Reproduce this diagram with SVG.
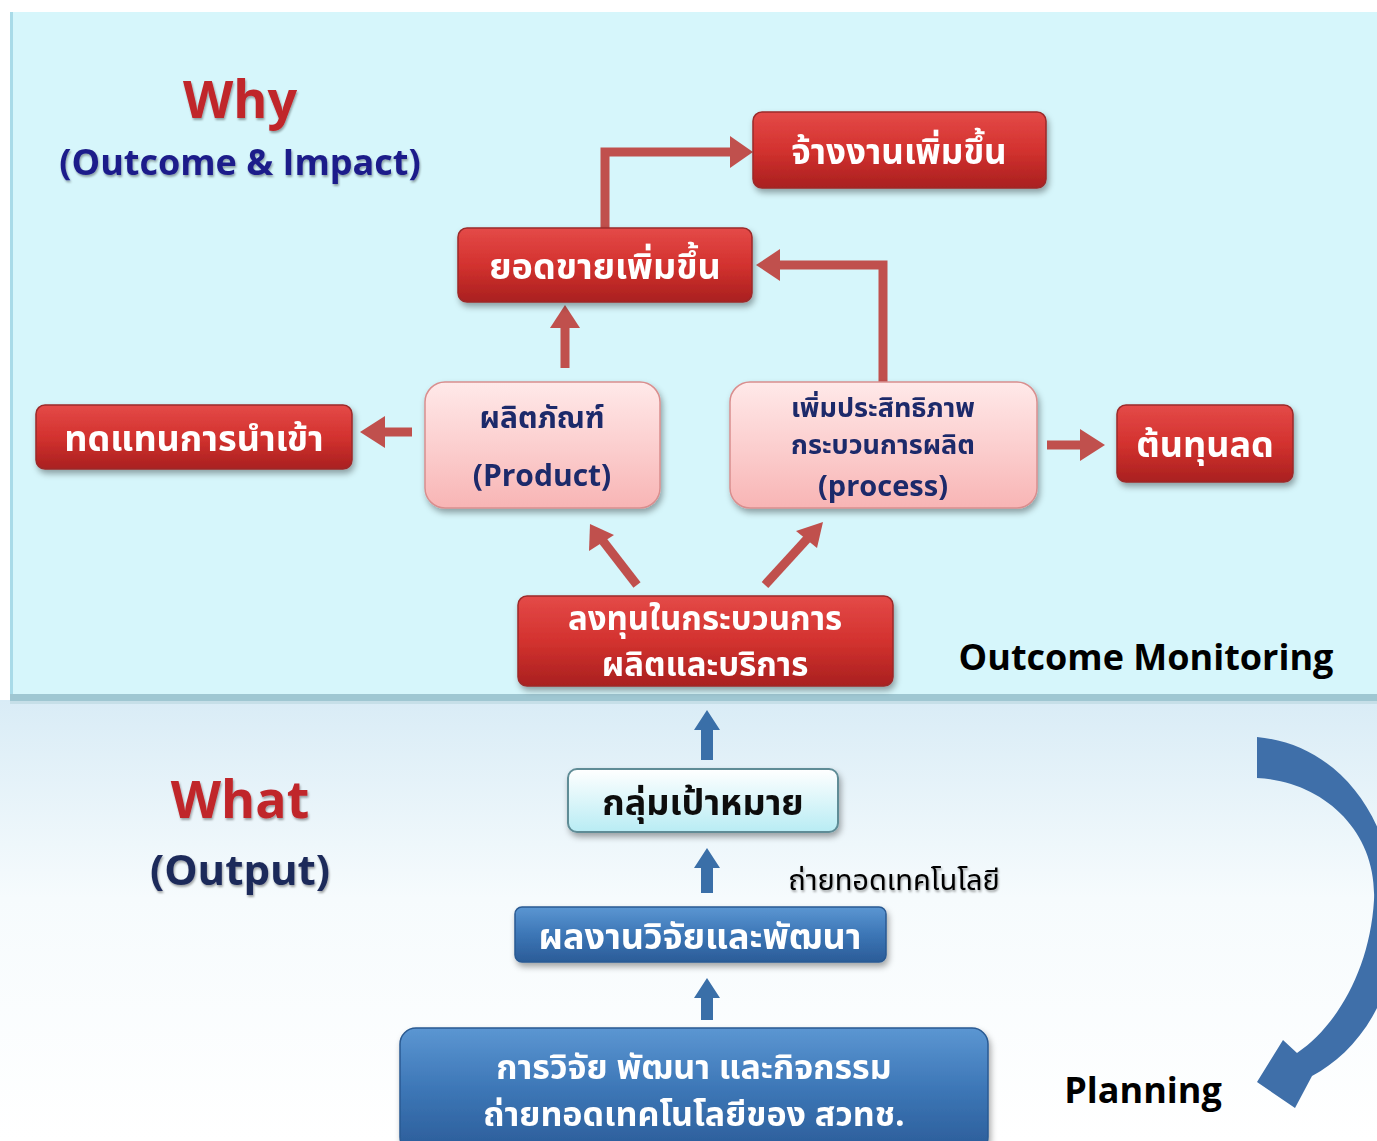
<svg xmlns="http://www.w3.org/2000/svg" width="1377" height="1141" viewBox="0 0 1377 1141">
<defs>
<style>
.th{font-family:"Noto Sans Thai","Noto Sans","DejaVu Sans",sans-serif;}
.lat{font-family:"Open Sans","Noto Sans","Liberation Sans",sans-serif;}
.wt{fill:#ffffff;font-weight:bold;text-anchor:middle;}
.nv{fill:#1f2a6b;font-weight:bold;text-anchor:middle;}
.red{fill:url(#gRed);stroke:#9c2a2a;stroke-width:1.5;}
.pink{fill:url(#gPink);stroke:#d98e8e;stroke-width:1.5;}
.blue{fill:url(#gBlue);stroke:#2a5a92;stroke-width:1.5;}
.cyan{fill:url(#gCyan);stroke:#5f8c96;stroke-width:2;}
.rline{fill:none;stroke:#c0504d;stroke-width:9;}
.rhead{fill:#c0504d;}
.bar{fill:#3a6fa8;}
</style>
<linearGradient id="gRed" x1="0" y1="0" x2="0" y2="1">
<stop offset="0" stop-color="#e44a48"/><stop offset="0.5" stop-color="#d3322f"/><stop offset="1" stop-color="#a9201f"/>
</linearGradient>
<linearGradient id="gPink" x1="0" y1="0" x2="0" y2="1">
<stop offset="0" stop-color="#ffe9e9"/><stop offset="1" stop-color="#f8b5b5"/>
</linearGradient>
<linearGradient id="gBlue" x1="0" y1="0" x2="0" y2="1">
<stop offset="0" stop-color="#5b96d2"/><stop offset="0.5" stop-color="#3c76b6"/><stop offset="1" stop-color="#2b5c98"/>
</linearGradient>
<linearGradient id="gCyan" x1="0" y1="0" x2="0" y2="1">
<stop offset="0" stop-color="#ffffff"/><stop offset="1" stop-color="#b8ecf4"/>
</linearGradient>
<linearGradient id="gBottom" x1="0" y1="0" x2="0" y2="1">
<stop offset="0" stop-color="#d9ecf6"/><stop offset="0.45" stop-color="#f6fbfd"/><stop offset="1" stop-color="#ffffff"/>
</linearGradient>
<filter id="sh" x="-10%" y="-10%" width="125%" height="135%">
<feDropShadow dx="2" dy="4" stdDeviation="3" flood-color="#000" flood-opacity="0.35"/>
</filter>
<filter id="tsh" x="-10%" y="-10%" width="125%" height="135%">
<feDropShadow dx="1" dy="2" stdDeviation="1.2" flood-color="#000" flood-opacity="0.35"/>
</filter>
</defs>

<!-- background -->
<rect x="0" y="0" width="1377" height="1141" fill="#ffffff"/>
<rect x="0" y="700" width="1377" height="441" fill="url(#gBottom)"/>
<rect x="10" y="12" width="1367" height="686" fill="#d6f6fb"/>
<rect x="10" y="12" width="3" height="686" fill="#a9dbe8"/>
<rect x="10" y="694" width="1367" height="7" fill="#9fc7d2"/>
<rect x="10" y="701" width="1367" height="3" fill="#c6dfe8"/>

<!-- section labels -->
<g id="labels">
<text x="240" y="118" class="lat" font-size="52" font-weight="bold" fill="#c0262b" text-anchor="middle" filter="url(#tsh)">Why</text>
<text x="240" y="175" class="lat" font-size="36" font-weight="bold" fill="#1c1c8a" text-anchor="middle" filter="url(#tsh)">(Outcome &amp; Impact)</text>
<text x="240" y="818" class="lat" font-size="52" font-weight="bold" fill="#c0262b" text-anchor="middle" filter="url(#tsh)">What</text>
<text x="240" y="885" class="lat" font-size="42" font-weight="bold" fill="#1f2a5a" text-anchor="middle" filter="url(#tsh)">(Output)</text>
<text x="1146" y="670" class="lat" font-size="36" font-weight="bold" fill="#000" text-anchor="middle">Outcome Monitoring</text>
<text x="1143" y="1103" class="lat" font-size="36" font-weight="bold" fill="#000" text-anchor="middle">Planning</text>
<text x="894" y="890" class="th" font-size="29" fill="#000" text-anchor="middle" filter="url(#tsh)">ถ่ายทอดเทคโนโลยี</text>
</g>

<!-- connectors -->
<g id="connectors">
<polyline class="rline" points="605,228 605,152 735,152"/>
<polygon class="rhead" points="730,136 753,152 730,168"/>
<polyline class="rline" points="883,382 883,265 775,265"/>
<polygon class="rhead" points="780,249 756,265 780,281"/>
<line class="rline" x1="565" y1="368" x2="565" y2="325"/>
<polygon class="rhead" points="550,328 565,305 580,328"/>
<line class="rline" x1="412" y1="432" x2="380" y2="432"/>
<polygon class="rhead" points="385,416 360,432 385,448"/>
<line class="rline" x1="1047" y1="445" x2="1085" y2="445"/>
<polygon class="rhead" points="1080,429 1105,445 1080,461"/>
<line class="rline" x1="637" y1="585" x2="603" y2="541"/>
<polygon class="rhead" points="589,551 590,524 614,535"/>
<line class="rline" x1="765" y1="585" x2="807" y2="539"/>
<polygon class="rhead" points="796,531 823,522 817,548"/>
<!-- blue up arrows -->
<polygon class="bar" points="701,760 713,760 713,730 720,730 707,710 694,730 701,730"/>
<polygon class="bar" points="701,893 713,893 713,868 720,868 707,848 694,868 701,868"/>
<polygon class="bar" points="701,1020 713,1020 713,998 720,998 707,978 694,998 701,998"/>
<!-- planning curved arrow -->
<path fill="#3f6fa9" d="M1257,737 C1345,745 1405,830 1395,945 C1388,1012 1350,1056 1312,1076 L1295,1108 L1257,1082 L1283,1040 L1297,1053 C1338,1025 1370,968 1374,900 C1377,830 1322,781 1257,778 Z"/>
</g>

<!-- nodes -->
<g id="n-hire" filter="url(#sh)">
<rect class="red" x="753" y="112" width="293" height="76" rx="9"/>
<text x="899" y="164" class="th wt" font-size="35">จ้างงานเพิ่มขึ้น</text>
</g>
<g id="n-sales" filter="url(#sh)">
<rect class="red" x="458" y="228" width="294" height="74" rx="9"/>
<text x="605" y="279" class="th wt" font-size="36">ยอดขายเพิ่มขึ้น</text>
</g>
<g id="n-import" filter="url(#sh)">
<rect class="red" x="36" y="405" width="316" height="64" rx="9"/>
<text x="194" y="451" class="th wt" font-size="36">ทดแทนการนำเข้า</text>
</g>
<g id="n-cost" filter="url(#sh)">
<rect class="red" x="1117" y="405" width="176" height="77" rx="9"/>
<text x="1205" y="457" class="th wt" font-size="36">ต้นทุนลด</text>
</g>
<g id="n-product" filter="url(#sh)">
<rect class="pink" x="425" y="382" width="235" height="126" rx="20"/>
<text class="th nv" font-size="30"><tspan x="542" y="428">ผลิตภัณฑ์</tspan><tspan class="lat" x="542" y="486" font-size="30">(Product)</tspan></text>
</g>
<g id="n-process" filter="url(#sh)">
<rect class="pink" x="730" y="382" width="307" height="126" rx="20"/>
<text class="th nv" font-size="27"><tspan x="883" y="417">เพิ่มประสิทธิภาพ</tspan><tspan x="883" y="454">กระบวนการผลิต</tspan><tspan class="lat" x="883" y="496" font-size="29">(process)</tspan></text>
</g>
<g id="n-invest" filter="url(#sh)">
<rect class="red" x="518" y="596" width="375" height="90" rx="9"/>
<text class="th wt" font-size="33"><tspan x="705" y="630">ลงทุนในกระบวนการ</tspan><tspan x="705" y="676">ผลิตและบริการ</tspan></text>
</g>
<g id="n-target" filter="url(#sh)">
<rect class="cyan" x="568" y="769" width="270" height="63" rx="9"/>
<text x="703" y="815" class="th" font-size="36" fill="#111" font-weight="bold" text-anchor="middle">กลุ่มเป้าหมาย</text>
</g>
<g id="n-results" filter="url(#sh)">
<rect class="blue" x="515" y="907" width="371" height="55" rx="7"/>
<text x="700" y="949" class="th wt" font-size="36">ผลงานวิจัยและพัฒนา</text>
</g>
<g id="n-rd" filter="url(#sh)">
<rect class="blue" x="400" y="1028" width="588" height="125" rx="16"/>
<text class="th wt" font-size="34"><tspan x="694" y="1079">การวิจัย พัฒนา และกิจกรรม</tspan><tspan x="694" y="1126">ถ่ายทอดเทคโนโลยีของ สวทช.</tspan></text>
</g>
</svg>
